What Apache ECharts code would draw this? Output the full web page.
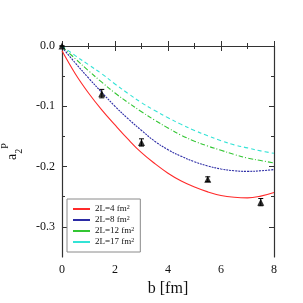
<!DOCTYPE html>
<html>
<head>
<meta charset="utf-8">
<script src="https://cdn.jsdelivr.net/npm/echarts@6/dist/echarts.min.js"></script>
<style>html,body{margin:0;padding:0;background:#fff}#c{width:303px;height:303px}</style>
</head>
<body>
<div id="c"></div>
<script>
var bGrid = [0, 0.5, 1, 1.5, 2, 2.5, 3, 3.5, 4, 4.5, 5, 5.5, 6, 6.5, 7, 7.5, 8];
var curve4 = [-0.008, -0.046, -0.078, -0.106, -0.131, -0.155, -0.177, -0.195, -0.211, -0.224, -0.234, -0.242, -0.248, -0.251, -0.252, -0.249, -0.243];
var curve8 = [-0.002, -0.028, -0.053, -0.077, -0.100, -0.121, -0.140, -0.158, -0.172, -0.183, -0.192, -0.199, -0.204, -0.207, -0.208, -0.207, -0.205];
var curve12 = [-0.001, -0.021, -0.041, -0.060, -0.078, -0.094, -0.109, -0.123, -0.136, -0.148, -0.158, -0.166, -0.173, -0.180, -0.186, -0.190, -0.194];
var curve17 = [0.000, -0.016, -0.031, -0.046, -0.063, -0.079, -0.094, -0.107, -0.119, -0.130, -0.140, -0.149, -0.157, -0.164, -0.169, -0.174, -0.178];
var pointsB = [0, 1.5, 3, 5.5, 7.5];
var pointsA = [0, -0.079, -0.160, -0.221, -0.259];
var pointsErr = [0, 0.007, 0.006, 0.004, 0.006];
var seriesNames = ['2L=4 fm{sup|2}', '2L=8 fm{sup|2}', '2L=12 fm{sup|2}', '2L=17 fm{sup|2}'];
var yMajor = [0, -0.1, -0.2, -0.3];
var yMinor = [-0.05, -0.15, -0.25];

function pairs(xs, ys) { return xs.map(function (x, i) { return [x, ys[i]]; }); }

var serif = 'Liberation Serif';
var axisColor = '#333';
var chart = echarts.init(document.getElementById('c'), null, {renderer: 'canvas'});

function yAx(pos, ticks, len, showLabel, showLine) {
  return {
    type: 'value', position: pos, min: -0.35, max: 0,
    axisLine: {show: showLine, lineStyle: {color: axisColor, width: 1.2}},
    axisTick: {show: true, inside: true, length: len, customValues: ticks, lineStyle: {color: axisColor, width: 1}},
    axisLabel: showLabel ? {show: true, customValues: yMajor, fontFamily: serif, fontSize: 12, color: '#111', margin: 7,
      formatter: function (v) { return v.toFixed(1); }} : {show: false},
    splitLine: {show: false}
  };
}
function xAx(pos, showLabel) {
  return {
    type: 'value', position: pos, min: 0, max: 8, interval: 2,
    axisLine: {show: true, lineStyle: {color: axisColor, width: 1.2}},
    axisTick: {show: true, inside: true, length: 5, lineStyle: {color: axisColor, width: 1}},
    minorTick: {show: true, splitNumber: 2, length: 3, lineStyle: {color: axisColor, width: 1}},
    axisLabel: {show: showLabel, fontFamily: serif, fontSize: 12, color: '#111', margin: 7},
    splitLine: {show: false},
    name: showLabel ? 'b [fm]' : '', nameLocation: 'middle', nameGap: 21,
    nameTextStyle: {fontFamily: serif, fontSize: 16, color: '#111'}
  };
}

var yLeft = yAx('left', yMajor, 5, true, true);
yLeft.name = 'a{sub|2}{sup|P}';
yLeft.nameLocation = 'middle';
yLeft.nameRotate = 90;
yLeft.nameGap = 38;
yLeft.nameTextStyle = {fontFamily: serif, fontSize: 14, color: '#111', lineHeight: 24,
  rich: {
    sub: {fontFamily: serif, fontSize: 10, color: '#111', verticalAlign: 'bottom', lineHeight: 10},
    sup: {fontFamily: serif, fontSize: 10, color: '#111', verticalAlign: 'top', lineHeight: 10}
  }};

var lineDefs = [
  {data: curve4, color: '#ff2a2a', type: 'solid'},
  {data: curve8, color: '#2b2ba5', type: [2, 1]},
  {data: curve12, color: '#33c633', type: [5, 2, 1, 2]},
  {data: curve17, color: '#33e3d6', type: [4, 3]}
];

var series = lineDefs.map(function (d, i) {
  return {
    name: seriesNames[i], type: 'line', smooth: 0.4, showSymbol: false, symbol: 'none',
    data: pairs(bGrid, d.data), color: d.color,
    lineStyle: {color: d.color, width: 1.1, type: d.type}, z: 2, silent: true
  };
});

series.push({
  type: 'custom', name: 'err', silent: true, z: 3, clip: false,
  data: pointsB.map(function (b, i) { return [b, pointsA[i] - pointsErr[i], pointsA[i] + pointsErr[i]]; }),
  renderItem: function (params, api) {
    var x = api.value(0);
    var lo = api.coord([x, api.value(1)]);
    var hi = api.coord([x, api.value(2)]);
    var w = 2.5;
    var st = {stroke: '#000', lineWidth: 1};
    return {type: 'group', children: [
      {type: 'line', shape: {x1: lo[0], y1: lo[1], x2: hi[0], y2: hi[1]}, style: st},
      {type: 'line', shape: {x1: lo[0] - w, y1: lo[1], x2: lo[0] + w, y2: lo[1]}, style: st},
      {type: 'line', shape: {x1: hi[0] - w, y1: hi[1], x2: hi[0] + w, y2: hi[1]}, style: st}
    ]};
  }
});
series.push({
  type: 'scatter', name: 'data', symbol: 'triangle', symbolSize: 7, clip: false, z: 4, silent: true,
  itemStyle: {color: '#000'}, data: pairs(pointsB, pointsA)
});

chart.setOption({
  animation: false,
  backgroundColor: '#fff',
  grid: {left: 62, right: 29, top: 46, bottom: 46, containLabel: false, outerBoundsMode: 'none'},
  xAxis: [xAx('bottom', true), xAx('top', false)],
  yAxis: [
    yLeft,
    yAx('left', yMinor, 3, false, false),
    yAx('right', yMajor, 5, false, true),
    yAx('right', yMinor, 3, false, false)
  ],
  legend: {
    show: true, orient: 'vertical', left: 67, top: 199,
    data: seriesNames, icon: 'rect', itemWidth: 17, itemHeight: 2, itemGap: 1,
    padding: [5, 6, 5, 6], borderColor: '#8a8a8a', borderWidth: 1, backgroundColor: '#fff',
    textStyle: {fontFamily: serif, fontSize: 9, color: '#111', lineHeight: 10,
      rich: {sup: {fontFamily: serif, fontSize: 6, color: '#111', verticalAlign: 'top', lineHeight: 6}}},
    selectedMode: false
  },
  series: series
});
</script>
</body>
</html>
